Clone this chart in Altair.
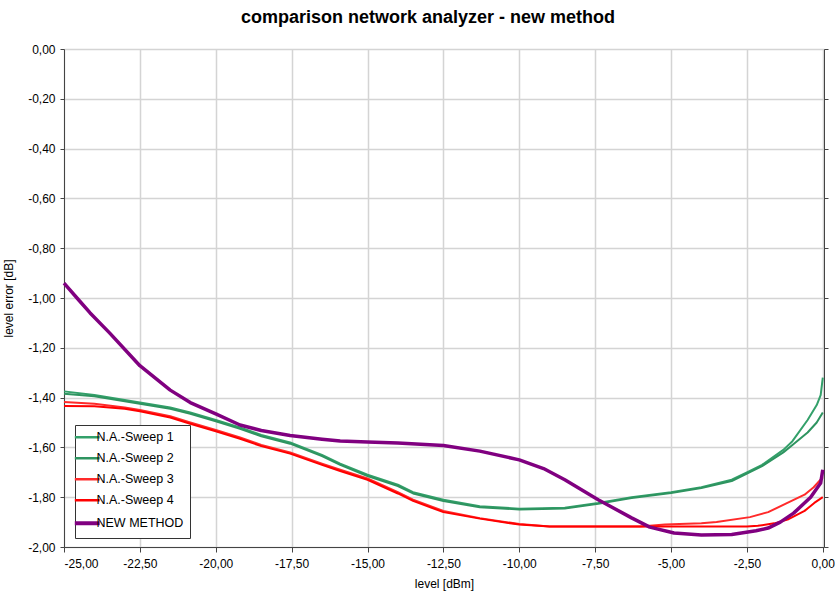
import altair as alt
import pandas as pd

series_names = ["N.A.-Sweep 1", "N.A.-Sweep 2", "N.A.-Sweep 3", "N.A.-Sweep 4", "NEW METHOD"]
series_colors = ["#33a06a", "#2e9460", "#ff2a2a", "#ff0000", "#800080"]

sweep1_x = [-25, -24, -23, -22.5, -21.5, -20.84, -20, -19.2, -18.5, -17.55, -16.5, -15.9, -15, -14, -13.5, -12.5,
            -11.3, -10, -8.5, -7.4, -6.3, -5, -4, -3, -2.5, -2, -1.3, -1.0, -0.5, -0.2, -0.07, 0]
sweep1_y = [-1.375, -1.39, -1.41, -1.42, -1.44, -1.46, -1.49, -1.52, -1.55, -1.58, -1.63, -1.665, -1.71, -1.75,
            -1.78, -1.81, -1.836, -1.846, -1.842, -1.823, -1.80, -1.78, -1.76, -1.73, -1.70, -1.67, -1.61, -1.575,
            -1.49, -1.43, -1.39, -1.32]

sweep2_x = [-25, -24, -23, -22.5, -21.5, -20.84, -20, -19.2, -18.5, -17.55, -16.5, -15.9, -15, -14, -13.5, -12.5,
            -11.3, -10, -8.5, -7.4, -6.3, -5, -4, -3, -2.5, -2, -1.3, -1.0, -0.5, -0.2, 0]
sweep2_y = [-1.385, -1.395, -1.415, -1.425, -1.445, -1.465, -1.495, -1.525, -1.555, -1.585, -1.635, -1.67, -1.715,
            -1.755, -1.785, -1.815, -1.84, -1.849, -1.845, -1.826, -1.803, -1.783, -1.763, -1.735, -1.705, -1.675,
            -1.62, -1.59, -1.54, -1.50, -1.46]

sweep3_x = [-25, -24, -23, -22.5, -21.5, -20.84, -20, -19.2, -18.5, -17.55, -16.5, -15.9, -15, -14, -13.5, -12.5,
            -11.3, -10, -9, -8, -6, -5.2, -4, -3.5, -2.4, -1.8, -1.2, -0.6, -0.3, 0]
sweep3_y = [-1.418, -1.425, -1.44, -1.45, -1.475, -1.50, -1.53, -1.56, -1.59, -1.62, -1.665, -1.69, -1.725, -1.78,
            -1.81, -1.855, -1.884, -1.908, -1.918, -1.918, -1.918, -1.91, -1.905, -1.90, -1.88, -1.86, -1.825,
            -1.79, -1.76, -1.72]

sweep4_x = [-25, -24, -23, -22.5, -21.5, -20.84, -20, -19.2, -18.5, -17.55, -16.5, -15.9, -15, -14, -13.5, -12.5,
            -11.3, -10, -9, -8, -6, -4, -2.5, -2.14, -1.6, -1.16, -0.6, -0.28, 0]
sweep4_y = [-1.434, -1.435, -1.445, -1.455, -1.48, -1.505, -1.535, -1.565, -1.595, -1.625, -1.67, -1.695, -1.73,
            -1.785, -1.815, -1.86, -1.886, -1.91, -1.918, -1.918, -1.918, -1.918, -1.918, -1.915, -1.905, -1.89,
            -1.855, -1.823, -1.80]

new_x = [-25, -24.5, -24.14, -23.5, -22.5, -21.5, -20.84, -20, -19.2, -18.5, -17.55, -16.5, -15.9, -15, -14, -12.5,
         -11.3, -10, -9.2, -8.5, -7.4, -6.3, -5.7, -4.9, -4, -3, -2.2, -1.8, -1.4, -0.96, -0.4, -0.07, 0]
new_y = [-0.94, -1.01, -1.06, -1.14, -1.272, -1.37, -1.42, -1.465, -1.51, -1.532, -1.552, -1.567, -1.574, -1.578,
         -1.582, -1.592, -1.615, -1.65, -1.685, -1.73, -1.81, -1.883, -1.92, -1.944, -1.952, -1.95, -1.935, -1.924,
         -1.90, -1.864, -1.80, -1.743, -1.69]

x_ticks = [-25, -22.5, -20, -17.5, -15, -12.5, -10, -7.5, -5, -2.5, 0]
y_ticks = [0, -0.2, -0.4, -0.6, -0.8, -1.0, -1.2, -1.4, -1.6, -1.8, -2.0]

rows = []
for name, xs, ys in zip(series_names,
                        [sweep1_x, sweep2_x, sweep3_x, sweep4_x, new_x],
                        [sweep1_y, sweep2_y, sweep3_y, sweep4_y, new_y]):
    for i, (xv, yv) in enumerate(zip(xs, ys)):
        rows.append({"series": name, "level": xv, "err": yv, "idx": i})
df = pd.DataFrame(rows)

FONT = "Liberation Sans"
label_expr = "(datum.value < -0.0001 ? '-' : '') + replace(format(abs(datum.value), '.2f'), '.', ',')"

y_scale = alt.Scale(domain=[-2, 0], nice=False, zero=False)

x_enc = alt.X("level:Q",
              scale=alt.Scale(domain=[-25, 0.04], nice=False, zero=False),
              axis=alt.Axis(values=x_ticks, title="level [dBm]", labelExpr=label_expr,
                            grid=True, gridColor="#d4d4d4", gridWidth=1.5,
                            domainColor="#444444", tickColor="#444444", tickSize=5,
                            labelPadding=6, titlePadding=9, labelFontSize=12, titleFontSize=12,
                            titleFontWeight="normal", labelFont=FONT, titleFont=FONT,
                            labelColor="#000000", titleColor="#000000"))
y_enc = alt.Y("err:Q", scale=y_scale,
              axis=alt.Axis(values=y_ticks, title="level error [dB]", labelExpr=label_expr,
                            grid=True, gridColor="#d4d4d4", gridWidth=1.5,
                            domainColor="#444444", tickColor="#444444", tickSize=4,
                            labelPadding=5, titlePadding=12, labelFontSize=12, titleFontSize=12,
                            titleFontWeight="normal", labelFont=FONT, titleFont=FONT,
                            labelColor="#000000", titleColor="#000000"))
color_enc = alt.Color("series:N",
                      scale=alt.Scale(domain=series_names, range=series_colors),
                      legend=alt.Legend(title=None, orient="none", legendX=11, legendY=376,
                                        symbolType="stroke", symbolSize=620,
                                        symbolStrokeWidth=alt.ExprRef("datum.value == 'NEW METHOD' ? 4 : 2.5"),
                                        labelFont=FONT, labelFontSize=12.5, labelColor="#000000",
                                        strokeColor="#333333", padding=6, rowPadding=8,
                                        fillColor="#ffffff", labelOffset=3))

base = alt.Chart(df)

sweeps = base.transform_filter(alt.datum.series != "NEW METHOD").mark_line(
    strokeWidth=2, strokeJoin="round").encode(x=x_enc, y=y_enc, color=color_enc, order="idx:Q")

newm = base.transform_filter(alt.datum.series == "NEW METHOD").mark_line(
    strokeWidth=3.5, strokeJoin="round").encode(
    x=x_enc, y=alt.Y("err:Q", scale=y_scale, axis=None), color=color_enc, order="idx:Q")

right_axis = base.mark_rule(opacity=0).encode(
    y=alt.Y("err:Q", scale=y_scale,
            axis=alt.Axis(orient="right", values=y_ticks, labels=False, title=None, grid=False,
                          domainColor="#444444", tickColor="#444444", tickSize=4)),
)

chart = alt.layer(sweeps, newm, right_axis).resolve_scale(y="shared").resolve_axis(y="independent").properties(
    width=760, height=498,
    title=alt.TitleParams("comparison network analyzer - new method", font=FONT, fontSize=18,
                          fontWeight="bold", color="#000000", anchor="middle", dx=-16, offset=16),
    autosize=alt.AutoSizeParams(type="none"),
    padding={"left": 64, "top": 49, "right": 11, "bottom": 50},
).configure_view(stroke=None).configure(background="#ffffff")

chart.save("out.html", embed_options={"renderer": "svg", "actions": False})
